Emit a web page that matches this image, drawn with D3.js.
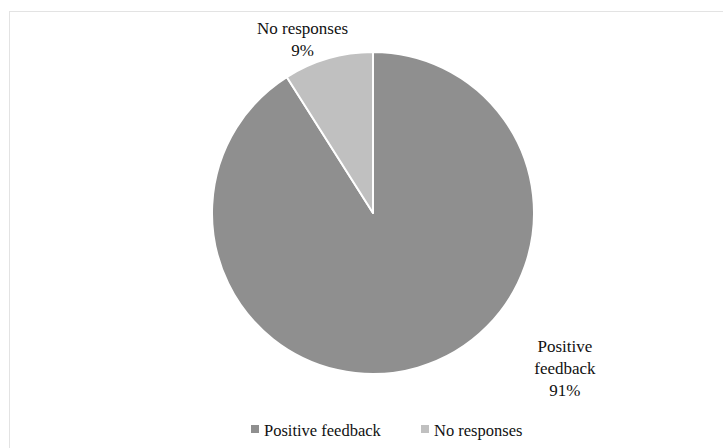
<!DOCTYPE html>
<html>
<head>
<meta charset="utf-8">
<script src="https://cdn.jsdelivr.net/npm/d3@7"></script>
<style>
  body { margin: 0; background: #fff; }
  text { font-family: 'Liberation Serif', 'Times New Roman', serif; }
</style>
</head>
<body>
<svg id="pie-svg" width="723" height="448"></svg>
<script>
const categories = ["Positive feedback", "No responses"];
const values = [91, 9];
const pctLabels = ["91%", "9%"];
const labelLines = [["Positive", "feedback"], ["No responses"]];
const colors = ["#8f8f8f", "#c0c0c0"];

// where the data labels sit, as angle (deg, clockwise from top) and distance from centre
const labelAngle = [129, 338];
const labelDist = [247, 188];

const width = 723, height = 448;
const cx = 373, cy = 213, radius = 161;

const svg = d3.select("#pie-svg");

// outer frame
svg.append("rect")
  .attr("x", 9.5).attr("y", 11.5)
  .attr("width", 730).attr("height", 460)
  .attr("fill", "none")
  .attr("stroke", "#e3e3e3");

const color = d3.scaleOrdinal().domain(categories).range(colors);

const pie = d3.pie().sort(null).value(d => d);
const arcs = pie(values);
const arc = d3.arc().innerRadius(0).outerRadius(radius);

const g = svg.append("g").attr("transform", `translate(${cx},${cy})`);

g.selectAll("path")
  .data(arcs)
  .enter().append("path")
    .attr("d", arc)
    .attr("fill", (d, i) => color(categories[i]))
    .attr("stroke", "#fff")
    .attr("stroke-width", 2)
    .attr("stroke-linejoin", "round");

// data labels
const lineH = 22;
arcs.forEach((d, i) => {
  const a = labelAngle[i] * Math.PI / 180;
  const x = Math.sin(a) * labelDist[i];
  const y = -Math.cos(a) * labelDist[i];
  const lines = labelLines[i].concat([pctLabels[i]]);
  const top = y - (lines.length - 1) * lineH / 2;
  const t = g.append("text")
    .attr("text-anchor", "middle")
    .style("font-size", "17px")
    .attr("fill", "#111");
  lines.forEach((l, j) => {
    t.append("tspan")
      .attr("x", x)
      .attr("y", top + j * lineH)
      .attr("dy", "0.35em")
      .text(l);
  });
});

// legend
const legend = svg.append("g").attr("transform", "translate(251, 430)");
const legendX = [0, 170];
const items = legend.selectAll(".legendItem")
  .data(categories)
  .enter().append("g")
  .attr("class", "legendItem")
  .attr("transform", (d, i) => `translate(${legendX[i]},0)`);

items.append("rect")
  .attr("x", 0).attr("y", -5)
  .attr("width", 8).attr("height", 8)
  .attr("fill", d => color(d));

items.append("text")
  .attr("x", 13)
  .attr("y", 0)
  .attr("dy", "0.35em")
  .style("font-size", "16.5px")
  .attr("fill", "#111")
  .text(d => d);
</script>
</body>
</html>
